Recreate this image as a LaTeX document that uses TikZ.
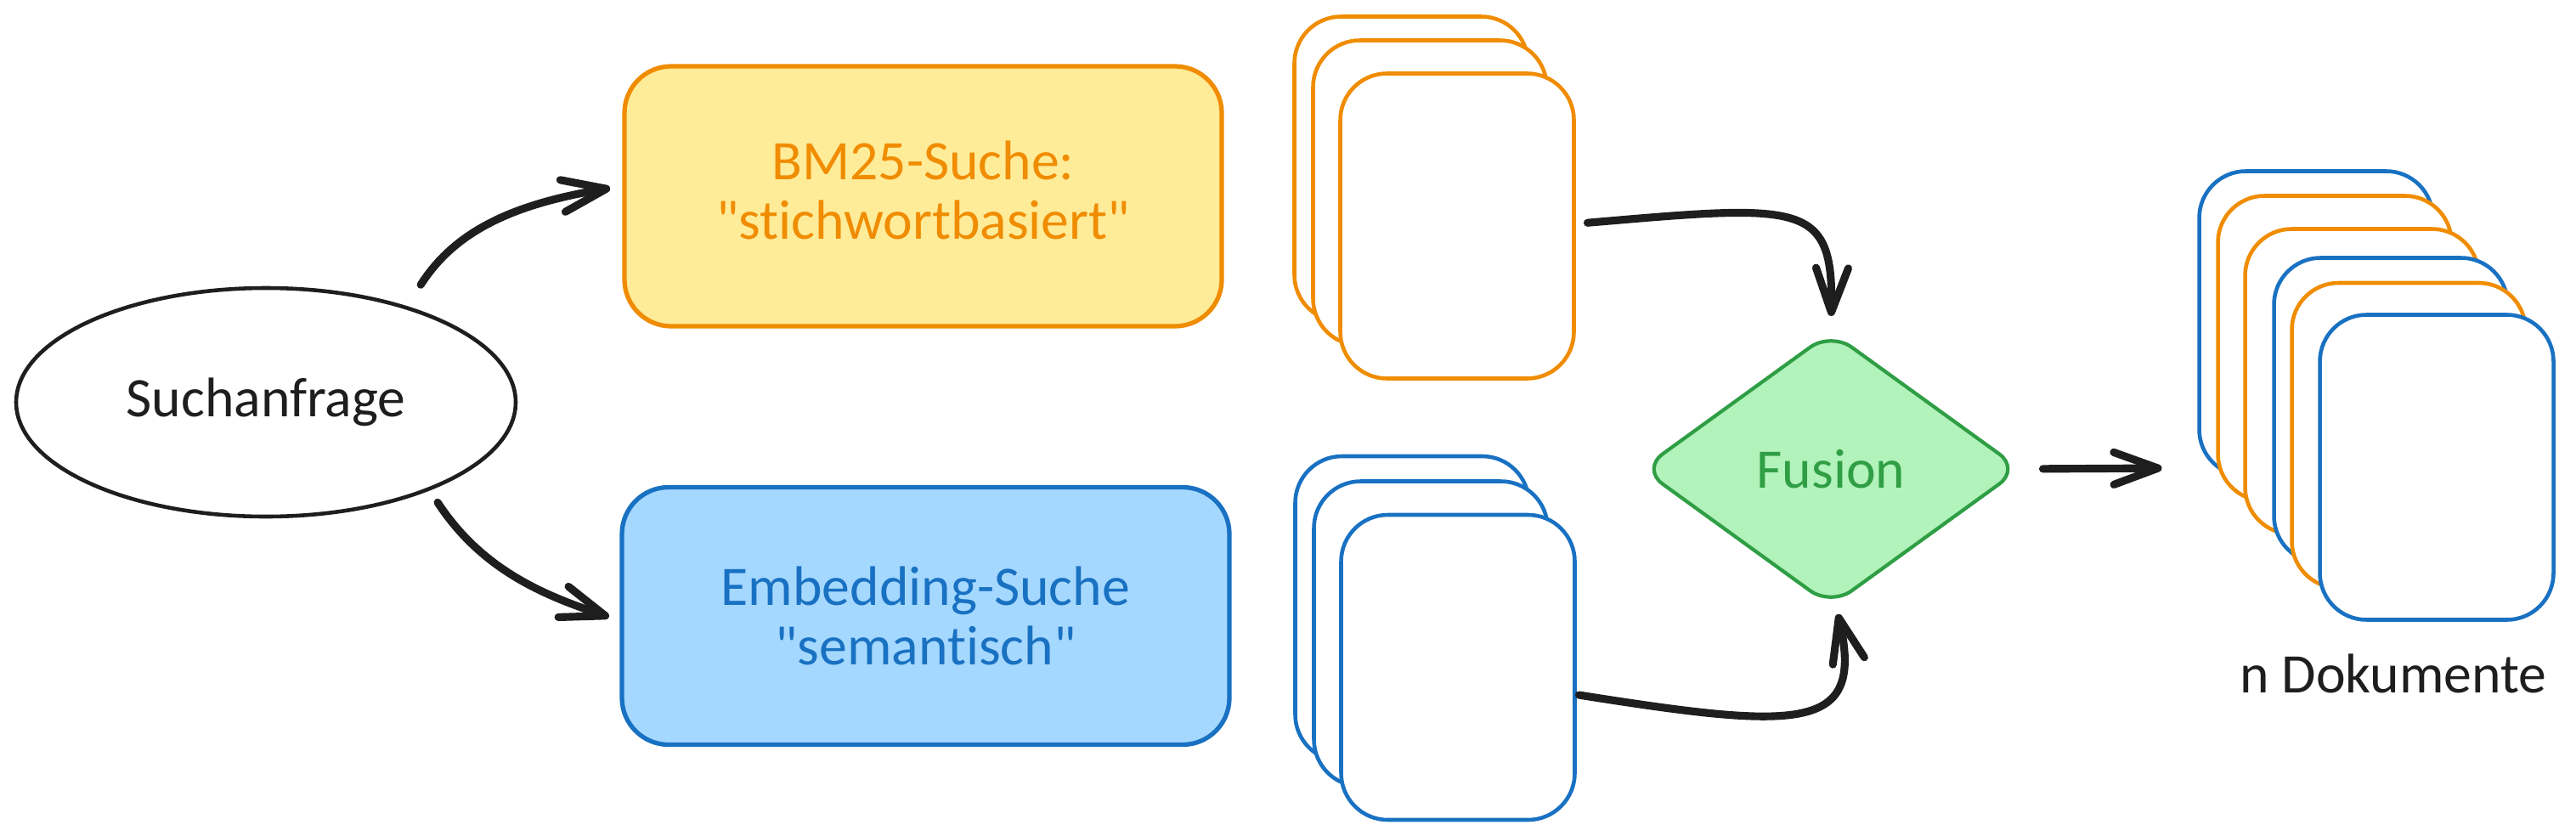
\documentclass[tikz,border=0pt]{standalone}
\usepackage{fontspec}
\newfontfamily\handfont{Carlito}[Ligatures=NoCommon]
\usetikzlibrary{arrows.meta,shapes.geometric}
\definecolor{inkblack}{HTML}{1E1E1E}
\definecolor{inkorange}{HTML}{F08C00}
\definecolor{inkblue}{HTML}{1971C2}
\definecolor{inkgreen}{HTML}{2F9E44}
\definecolor{fillyellow}{HTML}{FFEC99}
\definecolor{fillblue}{HTML}{A5D8FF}
\definecolor{fillgreen}{HTML}{B2F2BB}
\begin{document}
\begin{tikzpicture}
[textstyle/.style={font=\handfont\fontsize{18.7}{20}\selectfont,align=center,inner sep=0pt,outer sep=0pt},%
 querystyle/.style={textstyle,ellipse,draw=inkblack,line width=1.3pt,fill=white,minimum width=5.88cm,minimum height=2.69cm,text=inkblack},%
 boxstyle/.style={textstyle,rectangle,draw,line width=1.5pt,rounded corners=0.55cm},%
 fusionstyle/.style={textstyle,diamond,draw=inkgreen,line width=1.2pt,fill=fillgreen,text=inkgreen,rounded corners=0.3cm,minimum width=4.45cm,minimum height=3.22cm},%
 cardstyle/.style={rectangle,draw,line width=1.3pt,fill=white,rounded corners=0.55cm,inner sep=0pt,outer sep=0pt,minimum width=2.75cm,minimum height=3.59cm},%
 orangecard/.style={cardstyle,draw=inkorange},%
 bluecard/.style={cardstyle,draw=inkblue},%
 arrowstyle/.style={draw=inkblack,line width=2.6pt,line cap=round,-{Straight Barb[length=5.2mm,width=3.8mm,round]}}]
\useasboundingbox (0,0) rectangle (30.32,9.83);
%% search query and the two searches
\node[querystyle] (query) at (3.13,5.095) {Suchanfrage};
\node[boxstyle,draw=inkorange,fill=fillyellow,text=inkorange,minimum width=7.03cm,minimum height=3.06cm] (bm25) at (10.865,7.52) {BM25-Suche:\\"stichwortbasiert"\\[-16pt]};
\node[boxstyle,draw=inkblue,fill=fillblue,text=inkblue,minimum width=7.15cm,minimum height=3.03cm] (embedding) at (10.895,2.58) {Embedding-Suche\\"semantisch"};
%% result stacks of the two searches
\node[orangecard] (orange1) at (16.61,7.84) {};
\node[orangecard] (orange2) at (16.83,7.56) {};
\node[orangecard] (orange3) at (17.15,7.17) {};
\node[bluecard] (blue1) at (16.62,2.665) {};
\node[bluecard] (blue2) at (16.84,2.37) {};
\node[bluecard] (blue3) at (17.16,1.975) {};
%% fusion and merged stack
\node[fusionstyle] (fusion) at (21.55,4.31) {Fusion};
\node[bluecard] (merged1) at (27.26,6.02) {};
\node[orangecard] (merged2) at (27.48,5.73) {};
\node[orangecard] (merged3) at (27.80,5.34) {};
\node[bluecard] (merged4) at (28.14,5.00) {};
\node[orangecard] (merged5) at (28.35,4.705) {};
\node[bluecard] (merged6) at (28.68,4.33) {};
\node[textstyle,text=inkblack] (mergedlabel) at (28.17,1.90) {n Dokumente};
%% connectors
\draw[arrowstyle,shorten <=0.32cm,shorten >=0.17cm] (query.34.5) .. controls +(0.56,0.88) and +(-1.35,-0.22) .. (bm25.178.25);
\draw[arrowstyle,shorten <=0.19cm,shorten >=0.16cm] (query.-28.8) .. controls +(0.62,-0.95) and +(-0.92,0.305) .. (embedding.181.7);
\draw[arrowstyle,shorten <=0.16cm,shorten >=0.19cm] (orange3.1.2) .. controls +(2.68,0.23) and +(0.03,1.55) .. (fusion.north);
\draw[arrowstyle,shorten <=0.05cm,shorten >=0.10cm] (blue3.-13.3) .. controls +(2.66,-0.42) and +(0.34,-1.49) .. ([xshift=0.06cm]fusion.south);
\draw[arrowstyle,shorten <=0.27cm,shorten >=1.86cm] (fusion.east) -- (merged6.west);
\end{tikzpicture}
\end{document}
